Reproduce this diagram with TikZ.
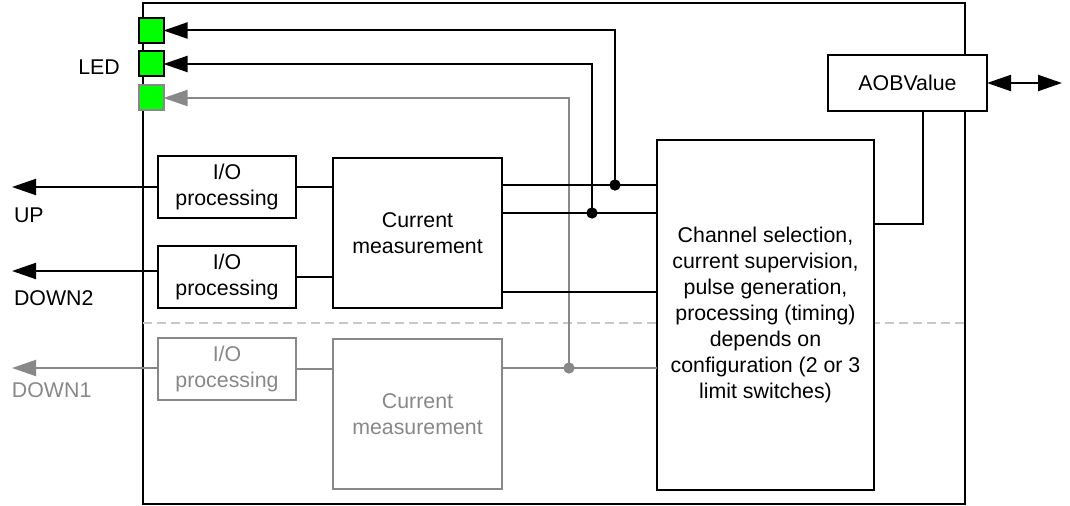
\documentclass[tikz,border=0pt]{standalone}
\usepackage{fontspec}
\setmainfont{Liberation Sans}
\usetikzlibrary{arrows.meta,calc}
\definecolor{dim}{RGB}{136,136,136}
\definecolor{dashc}{RGB}{200,200,200}
\definecolor{ledg}{RGB}{0,255,0}
\begin{document}
\begin{tikzpicture}[x=0.75pt,y=-0.75pt,line width=1.5pt,
  font=\fontsize{16pt}{19.4pt}\selectfont,
  box/.style={draw,fill=white,inner sep=0pt,outer sep=0pt,align=center},
  dimbox/.style={box,draw=dim,text=dim},
  led/.style={draw,fill=ledg,inner sep=0pt,outer sep=0pt,minimum size={25*0.75pt}},
  tip/.style={Triangle[length=18pt,width=12pt]},
  arr/.style={-{Triangle[length=18pt,width=12pt]}},
  dot/.style={circle,fill,inner sep=0pt,minimum size=8.5pt},
  lbl/.style={anchor=west,inner sep=0pt}]
\useasboundingbox (0,0) rectangle (1070,506);
% outer module frame
\node[draw,inner sep=0pt,outer sep=0pt,minimum width={822*0.75pt},minimum height={501*0.75pt}] (module) at (554,253.5) {};
\coordinate (dashy) at (0,323);
\draw[dashc,dash pattern=on 6.75pt off 3.75pt] (module.west |- dashy) -- (module.east |- dashy);
% coordinates
\coordinate (j1) at (615,185);
\coordinate (j2) at (592,213);
\coordinate (j3) at (569,368);
\coordinate (y3) at (0,292);
\coordinate (a1) at (923,224);
\coordinate (upend) at (12,187);
\coordinate (d2end) at (12,271);
\coordinate (d1end) at (12,368);
\coordinate (aobend) at (1062,83);
% LEDs
\node[led] (led1) at (151,30.5) {};
\node[led] (led2) at (151,64) {};
\node[led,draw=dim] (led3) at (151,98) {};
\node (ledlbl) at (99,67) {LED};
% blocks
\node[box,minimum width={138*0.75pt},minimum height={62*0.75pt}] (io1) at (227,187) {I/O\\processing};
\node[box,minimum width={138*0.75pt},minimum height={62*0.75pt}] (io2) at (227,277) {I/O\\processing};
\node[dimbox,minimum width={138*0.75pt},minimum height={62*0.75pt}] (io3) at (227,369) {I/O\\processing};
\node[box,minimum width={169*0.75pt},minimum height={150*0.75pt}] (cm1) at (417.5,233) {Current\\measurement};
\node[dimbox,minimum width={169*0.75pt},minimum height={150*0.75pt}] (cm2) at (417.5,414) {Current\\measurement};
\node[box,minimum width={217*0.75pt},minimum height={350*0.75pt}] (ch) at (765.5,315) {Channel selection,\\current supervision,\\pulse generation,\\processing (timing)\\depends on\\configuration (2 or 3\\limit switches)};
\node[box,minimum width={159*0.75pt},minimum height={56*0.75pt}] (aob) at (907.5,83) {AOBValue};
% gray channel
\draw[dim] (cm2.east |- j3) -- (ch.west |- j3);
\draw[dim,arr] (j3) |- (led3.east);
\node[dot,dim] (dot3) at (j3) {};
\draw[dim] (io3.east) -- (io3.east -| cm2.west);
\draw[dim,arr] (io3.west |- d1end) -- (d1end);
% black connections
\draw (cm1.east |- j1) -- (ch.west |- j1);
\draw (cm1.east |- j2) -- (ch.west |- j2);
\draw (cm1.east |- y3) -- (ch.west |- y3);
\draw[arr] (j1) |- (led1.east);
\draw[arr] (j2) |- (led2.east);
\node[dot] (dot1) at (j1) {};
\node[dot] (dot2) at (j2) {};
\draw (io1.east) -- (io1.east -| cm1.west);
\draw (io2.east) -- (io2.east -| cm1.west);
\draw[arr] (io1.west) -- (upend);
\draw[arr] (io2.west |- d2end) -- (d2end);
\draw (aob.south -| a1) |- (ch.east |- a1);
\draw[{Triangle[length=18pt,width=12pt]}-{Triangle[length=18pt,width=12pt]}] (aob.east) -- (aobend);
% labels
\node[lbl] (uplbl) at (13,215) {UP};
\node[lbl] (d2lbl) at (13,298) {DOWN2};
\node[lbl,text=dim] (d1lbl) at (11,390) {DOWN1};
\end{tikzpicture}
\end{document}
